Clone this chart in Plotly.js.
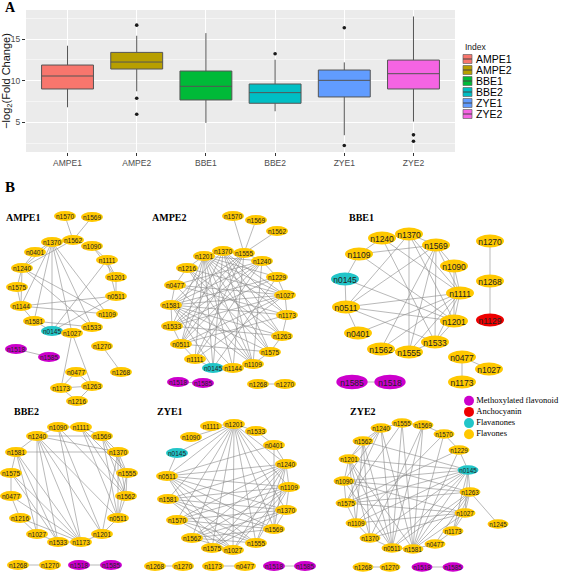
<!DOCTYPE html>
<html><head><meta charset="utf-8">
<script src="https://cdn.plot.ly/plotly-3.0.1.min.js"></script>
<style>html,body{margin:0;padding:0;background:#fff}</style>
</head><body><div id="chart" style="width:567px;height:574px"></div>
<script>
// ---------- Panel A data ----------
const groups = ["AMPE1","AMPE2","BBE1","BBE2","ZYE1","ZYE2"];
const groupColors = ["#F8766D","#B79F00","#00BA38","#00BFC4","#619CFF","#F564E3"];
const q1 = [9.0, 11.4, 7.68, 7.28, 8.04, 9.0];
const medians = [10.56, 12.24, 9.32, 8.56, 10.04, 10.84];
const q3 = [11.88, 13.4, 11.16, 9.6, 11.28, 12.48];
const lowerWhisker = [6.8, 8.72, 4.92, 6.32, 3.44, 5.08];
const upperWhisker = [14.2, 15.4, 15.72, 12.52, 12.2, 17.72];
const outlierGroup = ["AMPE2","AMPE2","AMPE2","BBE2","ZYE1","ZYE1","ZYE2","ZYE2"];
const outlierValue = [16.68, 7.88, 5.96, 13.24, 16.36, 2.2, 3.48, 2.72];
const yTicks = [5, 10, 15];

// ---------- Panel B data (node layout positions as drawn in the figure) ----------
const classNames = ["Methoxylated flavonoid","Anchocyanin","Flavanones","Flavones"];
const classColors = ["#CC00CC","#EE0000","#22C5C8","#FFC800"];
const compoundClass = {n1518:"Methoxylated flavonoid", n1585:"Methoxylated flavonoid", n1129:"Anchocyanin", n0145:"Flavanones"};

const ampe1Nodes = ["n1570","n1569","n1562","n1370","n1090","n0401","n1111","n1240","n1201","n1575","n0511","n1144","n1109","n1581","n0145","n1027","n1533","n1518","n1585","n1270","n1268","n0477","n1173","n1263","n1216"];
const ampe1X = [65,92,73,52,92,35,107,22,116,17,116,21,107,34,52,72,92,16,49,102,121,76,61,92,77];
const ampe1Y = [216,217,240,242,246,252,260,268,277,287,296,306,314,321,331,333,327,349,357,346,372,372,388,386,401];
const ampe1Edges = ["n1570-n1562","n1569-n1562","n1370-n1562","n1370-n0401","n1370-n1240","n1370-n1144","n1370-n1581","n1370-n0145","n1370-n1027","n1370-n1533","n1370-n1109","n1562-n1240","n0401-n1240","n1240-n1575","n1575-n1144","n1144-n1581","n1240-n1144","n1090-n1111","n1090-n1201","n1111-n1201","n1201-n0511","n1111-n0511","n1240-n1109","n1240-n1533","n1144-n0511","n1144-n1109","n1581-n1533","n1111-n0145","n0511-n0145","n1581-n0145","n1027-n1173","n1027-n1263","n0477-n1173","n0477-n1263","n1173-n1263","n1173-n1216","n1263-n1216","n1518-n1585","n1270-n1268"];

const ampe2Nodes = ["n1570","n1569","n1562","n1370","n1555","n1201","n1240","n1216","n1229","n0477","n1027","n1581","n1173","n1533","n1263","n0511","n1575","n1111","n1109","n0145","n1144","n1518","n1585","n1268","n1270"];
const ampe2X = [233,256,277,223,244,204,262,187,277,175,285,171,287,172,282,181,270,195,253,213,233,178,203,258,285];
const ampe2Y = [216,220,231,251,253,256,261,268,277,285,295,305,315,326,336,344,352,359,364,368,368,382,383,384,384];
const ampe2Edges = ["n1555-n1570","n1555-n1569","n1555-n1562","n1370-n1555","n1555-n1240","n1240-n1229","n1229-n1027","n1027-n1173","n1173-n1263","n1263-n1575","n1575-n1109","n1109-n1144","n1144-n0145","n0145-n1111","n1111-n0511","n0511-n1533","n1533-n1581","n1581-n0477","n0477-n1216","n1216-n1201","n1201-n1370","n1370-n1027","n1370-n1173","n1370-n1263","n1370-n1575","n1370-n1109","n1370-n0145","n1370-n0511","n1370-n1581","n1555-n1581","n1555-n0511","n1555-n1533","n1555-n1111","n1555-n1144","n1240-n1581","n1240-n0477","n1240-n1533","n1240-n0511","n1240-n1109","n1229-n1581","n1229-n1533","n1229-n0145","n1027-n1581","n1027-n0511","n1027-n1201","n1027-n1111","n1173-n1581","n1173-n1201","n1173-n0477","n1263-n1201","n1263-n1581","n1263-n1533","n1575-n1201","n1575-n1216","n1575-n1581","n1575-n0511","n1109-n1201","n1109-n1581","n1109-n0477","n1144-n1201","n1144-n1581","n0145-n1201","n0145-n1581","n1111-n1201","n1111-n1240","n0511-n1201","n0511-n1173","n1533-n1201","n1533-n1027","n0477-n1027","n1216-n1027","n1216-n1263","n1216-n1109","n1201-n1229","n1201-n1240","n1518-n1585","n1268-n1270"];

const bbe1Nodes = ["n1240","n1370","n1569","n1109","n1090","n0145","n1111","n0511","n1201","n0401","n1533","n1562","n1555","n1270","n1268","n1129","n0477","n1027","n1173","n1585","n1518"];
const bbe1X = [382,409,436,359,454,345,460,346,454,358,435,381,409,490,490,490,462,489,462,352,390];
const bbe1Y = [238,234,245,254,266,279,293,307,321,333,342,349,352,241,281,320,357,369,382,382,382];
const bbe1Edges = ["n1240-n1370","n1370-n1569","n1569-n1090","n1090-n1111","n1111-n1201","n1201-n1533","n1533-n1555","n1555-n1562","n0401-n0511","n0511-n0145","n0145-n1109","n1109-n1240","n1370-n1555","n1370-n1111","n1370-n1201","n1370-n0511","n1569-n1533","n1569-n1555","n1569-n0511","n1569-n1562","n1569-n1111","n1240-n1111","n1109-n1201","n0145-n1201","n0511-n1111","n0511-n1201","n0511-n1533","n0401-n1111","n1562-n1111","n1555-n1111","n1533-n1111","n1090-n1201","n1109-n1569","n1240-n1533","n1270-n1268","n1268-n1129","n0477-n1027","n0477-n1173","n1585-n1518"];

const bbe2Nodes = ["n1090","n1111","n1240","n1569","n1581","n1370","n1575","n1555","n0477","n1562","n1216","n0511","n1027","n1201","n1533","n1173","n1268","n1270","n1518","n1585"];
const bbe2X = [58,81,37,102,16,118,11,127,11,126,20,118,37,102,58,81,18,50,79,111];
const bbe2Y = [427,427,436,436,452,452,473,473,496,496,518,518,534,534,542,542,565,565,565,565];
const bbe2Edges = ["n1090-n1111","n1111-n1569","n1569-n1370","n1370-n1555","n1555-n1562","n1562-n0511","n0511-n1201","n1201-n1173","n1173-n1533","n1533-n1027","n1027-n1216","n1216-n0477","n0477-n1575","n1575-n1581","n1581-n1240","n1240-n1090","n1581-n1370","n1240-n1569","n1240-n1370","n1240-n1533","n1240-n1173","n1240-n1201","n1240-n0511","n1240-n1027","n1581-n1533","n1581-n1173","n1581-n1027","n1575-n1173","n1575-n1533","n0477-n1173","n1216-n1173","n1090-n1173","n1090-n1201","n1090-n1562","n1111-n0511","n1111-n1555","n1111-n1562","n1569-n0511","n1569-n1562","n1370-n0511","n1370-n1201","n1555-n0511","n1569-n1555","n1370-n1562","n1268-n1270","n1518-n1585"];

const zye1Nodes = ["n1111","n1201","n1533","n1090","n0401","n0145","n1240","n0511","n1109","n1581","n1370","n1570","n1569","n1562","n1555","n1575","n1027","n1268","n1270","n1173","n0477","n1518","n1585"];
const zye1X = [211,234,256,191,274,177,286,167,289,168,286,177,274,192,256,212,233,155,183,213,245,274,305];
const zye1Y = [426,424,431,437,445,453,464,476,487,499,510,520,529,538,543,548,550,566,566,566,566,566,566];
const zye1Edges = ["n1201-n1090","n1201-n1111","n1201-n1533","n1201-n0145","n1201-n0511","n1201-n1581","n1201-n1570","n1201-n1562","n1201-n1575","n1201-n1027","n1201-n1555","n1201-n1569","n1201-n1370","n1201-n1109","n1201-n1240","n0511-n1240","n0511-n1109","n0511-n1370","n0511-n1569","n0511-n1555","n0511-n1027","n0511-n1575","n0511-n0401","n1581-n1240","n1581-n1109","n1581-n1370","n1581-n1569","n1581-n1555","n1581-n1027","n1570-n1240","n1570-n1109","n1570-n1370","n1570-n1555","n1570-n1027","n1570-n1569","n1562-n1240","n1562-n1109","n1562-n1370","n1562-n1569","n1562-n1555","n1562-n1027","n1575-n1240","n1575-n1109","n1575-n1370","n1027-n1240","n1027-n1109","n1555-n1240","n1555-n1109","n1569-n1240","n1569-n0401","n1240-n1109","n1109-n1370","n1370-n1569","n0401-n1240","n1533-n0401","n0145-n0511","n1268-n1270","n1173-n0477","n1518-n1585"];

const zye2Nodes = ["n1240","n1555","n1569","n1570","n1562","n1229","n1201","n0145","n1090","n1263","n1575","n1027","n1109","n1173","n1370","n0477","n0511","n1581","n1245","n1268","n1270","n1518","n1585"];
const zye2X = [381,402,423,444,363,459,349,468,344,470,346,465,356,453,370,435,392,413,498,363,390,422,453];
const zye2Y = [428,423,425,434,441,450,459,470,481,492,503,513,523,531,538,544,548,549,524,567,567,567,567];
const zye2Edges = ["n1240-n1555","n1555-n1569","n1569-n1570","n1570-n1229","n1229-n0145","n0145-n1263","n1263-n1027","n1027-n1173","n1173-n0477","n0477-n1581","n1581-n0511","n0511-n1370","n1370-n1109","n1109-n1575","n1575-n1090","n1090-n1201","n1201-n1562","n1562-n1240","n0145-n1562","n0145-n1201","n0145-n1090","n0145-n1575","n0145-n1109","n0145-n1370","n0145-n0511","n0145-n1581","n0145-n1027","n0145-n1173","n0511-n1240","n0511-n1555","n0511-n1569","n0511-n1562","n0511-n1201","n0511-n1090","n0511-n1263","n1581-n1555","n1581-n1569","n1581-n1570","n1581-n1229","n1581-n1263","n1581-n1027","n1581-n1240","n1581-n1201","n1263-n0477","n1263-n1173","n1263-n1245","n1263-n1575","n1263-n1090","n1263-n1201","n1027-n1575","n1027-n1109","n1027-n1370","n1027-n1090","n1240-n1201","n1240-n1090","n1240-n1575","n1562-n1109","n1562-n1370","n1201-n1109","n1201-n1370","n1555-n1575","n1569-n1370","n1570-n1109","n1229-n1575","n1268-n1270","n1518-n1585"];

// ---------- helpers ----------
const W = 567, H = 574;
const PX = p => p / W;
const PY = p => 1 - p / H;

const panels = [
  {title:"AMPE1", tx:4,   ty:217, nodes:ampe1Nodes, X:ampe1X, Y:ampe1Y, edges:ampe1Edges, w:22, h:10, fs:6.5},
  {title:"AMPE2", tx:150, ty:217, nodes:ampe2Nodes, X:ampe2X, Y:ampe2Y, edges:ampe2Edges, w:22, h:10, fs:6.5},
  {title:"BBE1",  tx:347, ty:217, nodes:bbe1Nodes,  X:bbe1X,  Y:bbe1Y,  edges:bbe1Edges,  w:28, h:13, fs:8.5},
  {title:"BBE2",  tx:12,  ty:411, nodes:bbe2Nodes,  X:bbe2X,  Y:bbe2Y,  edges:bbe2Edges,  w:22, h:10, fs:6.5},
  {title:"ZYE1",  tx:155, ty:411, nodes:zye1Nodes,  X:zye1X,  Y:zye1Y,  edges:zye1Edges,  w:22, h:10, fs:6.5},
  {title:"ZYE2",  tx:348, ty:411, nodes:zye2Nodes,  X:zye2X,  Y:zye2Y,  edges:zye2Edges,  w:21, h:9.5, fs:6.3}
];

function colorOf(name){
  const c = compoundClass[name] || "Flavones";
  return classColors[classNames.indexOf(c)];
}

const traces = [];
const shapes = [];
const annotations = [];

// panel A background
shapes.push({type:'rect', xref:'x domain', yref:'y domain', x0:0, x1:1, y0:0, y1:1,
  fillcolor:'#EBEBEB', line:{width:0}, layer:'below'});

// boxes
groups.forEach((g,i)=>{
  traces.push({type:'box', x:[g], q1:[q1[i]], median:[medians[i]], q3:[q3[i]],
    lowerfence:[lowerWhisker[i]], upperfence:[upperWhisker[i]],
    fillcolor:groupColors[i], line:{color:'#555555', width:1}, whiskerwidth:0,
    width:0.75, boxpoints:false, name:g, showlegend:false, hoverinfo:'skip',
    xaxis:'x', yaxis:'y'});
});
traces.push({type:'scatter', mode:'markers', x:outlierGroup, y:outlierValue,
  marker:{color:'#1a1a1a', size:3.6}, showlegend:false, hoverinfo:'skip', xaxis:'x', yaxis:'y'});

// manual legend for panel A (ggplot style)
annotations.push({xref:'paper', yref:'paper', x:PX(463), y:PY(47), xanchor:'left', yanchor:'middle',
  text:'Index', showarrow:false, font:{family:'Liberation Sans', size:8.5, color:'#1a1a1a'}});
groups.forEach((g,i)=>{
  const cy = 59 + i*11;
  shapes.push({type:'rect', xref:'paper', yref:'paper', x0:PX(463), x1:PX(472), y0:PY(cy-4.5), y1:PY(cy+4.5),
    fillcolor:groupColors[i], line:{color:'#666', width:0.7}});
  shapes.push({type:'line', xref:'paper', yref:'paper', x0:PX(463), x1:PX(472), y0:PY(cy), y1:PY(cy),
    line:{color:'#444', width:1}});
  annotations.push({xref:'paper', yref:'paper', x:PX(473.5), y:PY(cy), xanchor:'left', yanchor:'middle',
    text:g, showarrow:false, font:{family:'Liberation Sans', size:10.5, color:'#000'}});
});

// panel labels
annotations.push({xref:'paper', yref:'paper', x:PX(3), y:PY(7), xanchor:'left', yanchor:'middle',
  text:'<b>A</b>', showarrow:false, font:{family:'Liberation Serif', size:14, color:'#000'}});
annotations.push({xref:'paper', yref:'paper', x:PX(3), y:PY(187), xanchor:'left', yanchor:'middle',
  text:'<b>B</b>', showarrow:false, font:{family:'Liberation Serif', size:15, color:'#000'}});

// networks
panels.forEach(p=>{
  const idx = {};
  p.nodes.forEach((n,i)=>idx[n]=i);
  const ex = [], ey = [];
  p.edges.forEach(e=>{
    const [a,b] = e.split('-');
    ex.push(p.X[idx[a]], p.X[idx[b]], null);
    ey.push(p.Y[idx[a]], p.Y[idx[b]], null);
  });
  traces.push({type:'scatter', mode:'lines', x:ex, y:ey, line:{color:'#8a8a8a', width:0.6},
    hoverinfo:'skip', showlegend:false, xaxis:'x2', yaxis:'y2'});
  p.nodes.forEach((n,i)=>{
    const big = (p.title==='BBE1' && compoundClass[n]==='Methoxylated flavonoid') ? 1.12 : 1;
    shapes.push({type:'circle', xref:'x2', yref:'y2',
      x0:p.X[i]-p.w*big/2, x1:p.X[i]+p.w*big/2, y0:p.Y[i]-p.h*big/2, y1:p.Y[i]+p.h*big/2,
      fillcolor:colorOf(n), line:{width:0}, layer:'above',
      label:{text:n, textposition:'middle center', font:{family:'Liberation Sans', size:p.fs, color:'#222'}}});
  });
  annotations.push({xref:'paper', yref:'paper', x:PX(p.tx), y:PY(p.ty), xanchor:'left', yanchor:'middle',
    text:'<b>'+p.title+'</b>', showarrow:false, font:{family:'Liberation Serif', size:10, color:'#000'}});
});

// node class legend
traces.push({type:'scatter', mode:'markers+text', xaxis:'x2', yaxis:'y2',
  x:classNames.map(()=>469), y:classNames.map((c,i)=>400.7 + i*11.2),
  marker:{color:classColors, size:10}, text:classNames, textposition:'middle right',
  textfont:{family:'Liberation Serif', size:8.5, color:'#000'}, hoverinfo:'skip', showlegend:false});

const layout = {
  width:W, height:H, margin:{l:0,r:0,t:0,b:0}, paper_bgcolor:'#ffffff', plot_bgcolor:'rgba(0,0,0,0)',
  showlegend:false, boxmode:'overlay',
  xaxis:{domain:[PX(26), PX(455)], type:'category', categoryorder:'array', categoryarray:groups,
    range:[-0.6,5.6], showgrid:true, gridcolor:'#ffffff', gridwidth:1.1, zeroline:false, showline:false,
    ticks:'outside', ticklen:3, tickcolor:'#333', tickfont:{family:'Liberation Sans', size:8.5, color:'#4D4D4D'},
    fixedrange:true, anchor:'y'},
  yaxis:{domain:[PY(152), PY(10)], range:[1.42,18.5], tickvals:yTicks, showgrid:true, gridcolor:'#ffffff',
    gridwidth:1.1, zeroline:false, showline:false, ticks:'outside', ticklen:3, tickcolor:'#333',
    tickfont:{family:'Liberation Sans', size:8.5, color:'#4D4D4D'},
    minor:{tickvals:[2.5,7.5,12.5,17.5], showgrid:true, gridcolor:'#ffffff', gridwidth:0.5, ticks:''},
    title:{text:'\u2212log<sub>2</sub>(Fold Change)', font:{family:'Liberation Sans', size:11, color:'#111'}, standoff:3},
    fixedrange:true, anchor:'x'},
  xaxis2:{domain:[0,1], range:[0,W], visible:false, anchor:'y2', fixedrange:true},
  yaxis2:{domain:[0, PY(170)], range:[H,170], visible:false, anchor:'x2', fixedrange:true},
  shapes:shapes, annotations:annotations
};

Plotly.newPlot('chart', traces, layout, {staticPlot:true, displayModeBar:false});
</script>
</body></html>
